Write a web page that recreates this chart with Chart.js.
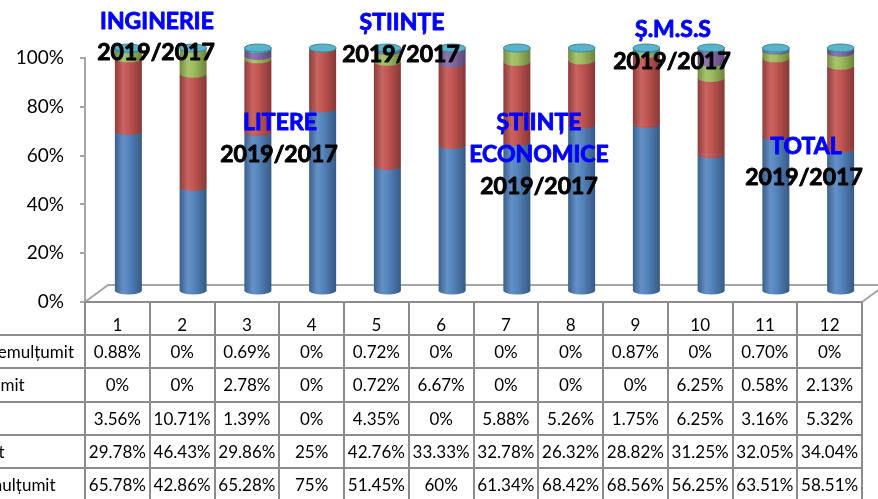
<!DOCTYPE html>
<html><head><meta charset="utf-8">
<script src="https://cdn.jsdelivr.net/npm/chart.js@4.4.1/dist/chart.umd.min.js"></script>
<style>html,body{margin:0;padding:0;background:#fff;overflow:hidden}#wrap{width:878px;height:499px;position:relative}</style>
</head><body><div id="wrap"><canvas id="c"></canvas></div>
<script>
const categories = ['1','2','3','4','5','6','7','8','9','10','11','12'];
const foarteMultumit   = [65.78,42.86,65.28,75,51.45,60,61.34,68.42,68.56,56.25,63.51,58.51];
const multumit         = [29.78,46.43,29.86,25,42.76,33.33,32.78,26.32,28.82,31.25,32.05,34.04];
const neutru           = [3.56,10.71,1.39,0,4.35,0,5.88,5.26,1.75,6.25,3.16,5.32];
const nemultumit       = [0,0,2.78,0,0.72,6.67,0,0,0,6.25,0.58,2.13];
const foarteNemultumit = [0.88,0,0.69,0,0.72,0,0,0,0.87,0,0.70,0];
const seriesNames = ['Foarte mulțumit','Mulțumit','Neutru','Nemulțumit','Foarte nemulțumit'];
const seriesColors = ['#4F81BD','#C0504D','#9BBB59','#8064A2','#4BACC6'];
const yTickLabels = ['0%','20%','40%','60%','80%','100%'];
const facultyTexts = [
  ['INGINERIE','2019/2017'],
  ['LITERE','2019/2017'],
  ['ȘTIINȚE','2019/2017'],
  ['ȘTIINȚE','ECONOMICE','2019/2017'],
  ['Ș.M.S.S','2019/2017'],
  ['TOTAL','2019/2017']
];

const BAR_FRAC = 0.417;
const SHIFT_X = 11, SHIFT_Y = -10;

function shade(hex, f){
  const n = parseInt(hex.slice(1),16);
  const r = n>>16, g = (n>>8)&255, b = n&255;
  const m = f >= 1 ? (c => Math.round(c + (255-c)*(f-1))) : (c => Math.round(c*f));
  return 'rgb(' + m(r) + ',' + m(g) + ',' + m(b) + ')';
}
function cylGradient(ctx, x, half, hex){
  const g = ctx.createLinearGradient(x-half, 0, x+half, 0);
  g.addColorStop(0, shade(hex,0.74));
  g.addColorStop(0.3, shade(hex,1.12));
  g.addColorStop(0.5, shade(hex,1.04));
  g.addColorStop(1, shade(hex,0.7));
  return g;
}
function fmt(v){ return (Number.isInteger(v) ? String(v) : v.toFixed(2)) + '%'; }

const seriesValues = [foarteMultumit, multumit, neutru, nemultumit, foarteNemultumit];

const datasets = seriesValues.map((vals, i) => ({
  label: seriesNames[i],
  data: vals,
  clip: false,
  borderWidth: 0,
  barPercentage: BAR_FRAC,
  categoryPercentage: 1,
  backgroundColor: (c) => {
    const ch = c.chart;
    if (!ch.chartArea || c.type !== 'data') return seriesColors[i];
    const xs = ch.scales.x;
    const half = xs.width / categories.length * BAR_FRAC / 2;
    return cylGradient(ch.ctx, xs.getPixelForValue(c.dataIndex), half, seriesColors[i]);
  }
}));

const cylinderPlugin = {
  id: 'cyl',
  beforeDatasetsDraw(chart){
    const {ctx, chartArea: ca} = chart;
    ctx.save();
    ctx.strokeStyle = '#a6a6a6';
    ctx.lineWidth = 2;
    ctx.beginPath();
    ctx.moveTo(ca.left, ca.bottom);
    ctx.lineTo(ca.left + 23, ca.bottom - 17);
    ctx.lineTo(ca.right + 23, ca.bottom - 17);
    ctx.moveTo(ca.right, ca.bottom);
    ctx.lineTo(ca.right + 23, ca.bottom - 17);
    ctx.stroke();
    ctx.restore();
    ctx.save();
    ctx.translate(SHIFT_X, SHIFT_Y);
  },
  afterDatasetsDraw(chart){
    const ctx = chart.ctx;
    const n = chart.data.datasets.length;
    const ry = 4;
    for (let j = 0; j < categories.length; j++) {
      for (let i = 0; i < n; i++) {
        const el = chart.getDatasetMeta(i).data[j];
        if (!el) continue;
        const h = Math.abs(el.base - el.y);
        if (h < 0.5) continue;
        const half = el.width / 2;
        ctx.fillStyle = cylGradient(ctx, el.x, half, seriesColors[i]);
        ctx.beginPath();
        ctx.ellipse(el.x, el.base - 0.5, half, ry, 0, 0, Math.PI);
        ctx.fill();
      }
      const top = chart.getDatasetMeta(n-1).data[j];
      const half = top.width / 2;
      ctx.fillStyle = shade(seriesColors[n-1], 1.08);
      ctx.strokeStyle = shade(seriesColors[n-1], 0.8);
      ctx.lineWidth = 1;
      ctx.beginPath();
      ctx.ellipse(top.x, top.y, half, ry, 0, 0, Math.PI*2);
      ctx.fill();
      ctx.stroke();
    }
    ctx.restore();
  }
};

const tablePlugin = {
  id: 'table',
  afterDraw(chart){
    const {ctx, chartArea: ca} = chart;
    const xs = chart.scales.x;
    const colW = xs.width / categories.length;
    const rowH = 33.3;
    const yTop = ca.bottom;
    const yHead = yTop + 33;
    ctx.save();
    ctx.strokeStyle = '#8c8c8c';
    ctx.lineWidth = 2;
    ctx.beginPath();
    for (let k = 0; k <= categories.length; k++) {
      const x = Math.round(xs.left + k*colW);
      ctx.moveTo(x, yTop); ctx.lineTo(x, chart.height + 2);
    }
    ctx.moveTo(xs.left, yTop); ctx.lineTo(xs.right, yTop);
    for (let r = 0; r <= 5; r++) {
      const y = Math.round(yHead + r*rowH);
      ctx.moveTo(0, y); ctx.lineTo(xs.right, y);
    }
    ctx.stroke();
    ctx.font = '17px Lato';
    ctx.fillStyle = '#000';
    ctx.textBaseline = 'middle';
    const n = seriesValues.length;
    const labelEnd = 74;
    ctx.textAlign = 'left';
    const x0 = labelEnd - ctx.measureText(seriesNames[n-1]).width;
    for (let r = 0; r < n; r++) {
      const si = n - 1 - r;
      const yc = yHead + r*rowH + rowH/2 + 1;
      ctx.textAlign = 'left';
      ctx.fillText(seriesNames[si], x0, yc);
      ctx.textAlign = 'center';
      for (let j = 0; j < categories.length; j++) {
        ctx.fillText(fmt(seriesValues[si][j]), xs.getPixelForValue(j), yc);
      }
    }
    ctx.restore();
  }
};

const annotationPlugin = {
  id: 'notes',
  afterDraw(chart){
    const ctx = chart.ctx;
    const pos = [
      [[157,22],[156,53]],
      [[280,123],[279,155]],
      [[402,23],[401,55]],
      [[539,123],[539,155],[539,187]],
      [[673,30],[672,62]],
      [[806,147],[804,178]]
    ];
    ctx.save();
    ctx.font = 'bold 23px Lato';
    ctx.textAlign = 'center';
    ctx.textBaseline = 'middle';
    ctx.lineWidth = 0.9;
    ctx.lineJoin = 'round';
    facultyTexts.forEach((lines, g) => {
      lines.forEach((t, k) => {
        const col = (k === lines.length - 1) ? '#000000' : '#0000FF';
        ctx.fillStyle = col;
        ctx.strokeStyle = col;
        ctx.fillText(t, pos[g][k][0], pos[g][k][1]);
        ctx.strokeText(t, pos[g][k][0], pos[g][k][1]);
      });
    });
    ctx.restore();
  }
};

new Chart(document.getElementById('c'), {
  type: 'bar',
  data: { labels: categories, datasets },
  options: {
    responsive: true,
    maintainAspectRatio: false,
    animation: false,
    layout: { padding: { top: 58, right: 16, left: 0, bottom: 0 } },
    plugins: { legend: { display: false }, tooltip: { enabled: false } },
    scales: {
      x: {
        stacked: true,
        grid: { display: false, drawTicks: false },
        border: { display: false },
        ticks: { color: '#000', font: { family: 'Lato', size: 17 }, padding: 13, maxRotation: 0 },
        afterFit(s){ s.height = 197; }
      },
      y: {
        stacked: true,
        min: 0, max: 100,
        grid: { drawOnChartArea: false, drawTicks: true, tickLength: 5, color: '#a6a6a6', lineWidth: 2 },
        border: { display: true, color: '#a6a6a6', width: 2 },
        ticks: { stepSize: 20, color: '#000', font: { family: 'Lato', size: 19 }, padding: 16,
                 callback: (v, i) => yTickLabels[i] },
        afterFit(s){ s.width = 85; }
      }
    }
  },
  plugins: [cylinderPlugin, tablePlugin, annotationPlugin]
});
</script>
</body></html>
